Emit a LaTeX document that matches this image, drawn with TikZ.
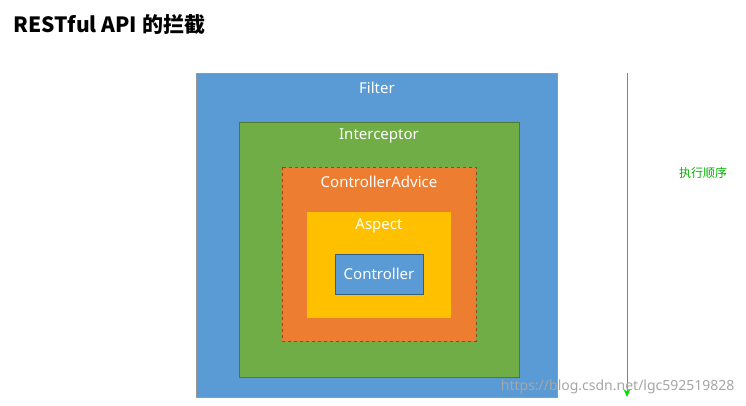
\documentclass[tikz,border=0pt]{standalone}
\usepackage{fontspec}
\usetikzlibrary{arrows.meta}
\setmainfont{Noto Sans}
\newfontfamily\cjk{Noto Sans CJK SC}
\definecolor{cblue}{HTML}{5B9BD5}
\definecolor{cgreen}{HTML}{70AD47}
\definecolor{corange}{HTML}{ED7D31}
\definecolor{cyellow}{HTML}{FFC000}
\definecolor{arrowgreen}{HTML}{00E000}
\begin{document}
\begin{tikzpicture}[x=1pt,y=-1pt,
  lbl/.style={text=white,font=\fontsize{15}{16}\selectfont,anchor=center}]
\useasboundingbox (0,0) rectangle (746,406);
\fill[white] (0,0) rectangle (746,406);
\node[anchor=west,font=\cjk\bfseries\fontsize{21}{23}\selectfont] (title) at (10,25) {RESTful API 的拦截};
\filldraw[fill=cblue,draw=gray!80] (196,73) rectangle (557,397);
\node[lbl] (filter) at (377,88) {Filter};
\filldraw[fill=cgreen,draw=cgreen!70!black] (239,122) rectangle (519,377);
\node[lbl] (inter) at (379,136) {Interceptor};
\filldraw[fill=corange,draw=corange!60!black,dashed] (282,167) rectangle (476,341);
\node[lbl] (ca) at (379,182) {ControllerAdvice};
\fill[cyellow] (307,212) rectangle (451,318);
\node[lbl] (aspect) at (379,226) {Aspect};
\node[draw=cblue!60!black,fill=cblue,text=white,minimum width=88pt,minimum height=40pt,inner sep=0pt,font=\fontsize{15}{16}\selectfont] (ctrl) at (379,274) {Controller};
\coordinate (a1) at (627,73);
\coordinate (a2) at (627,397);
\draw[arrowgreen,line width=0.8pt,-{Stealth[length=8pt,width=7pt]}] (a1) -- (a2);
\node[text=arrowgreen!80!black,font=\cjk\fontsize{12}{13}\selectfont] (order) at (703,173) {执行顺序};
\node[anchor=east,text=gray!70,font=\fontsize{14}{15}\selectfont] (wm) at (738,387) {https://blog.csdn.net/lgc592519828};
\end{tikzpicture}
\end{document}
